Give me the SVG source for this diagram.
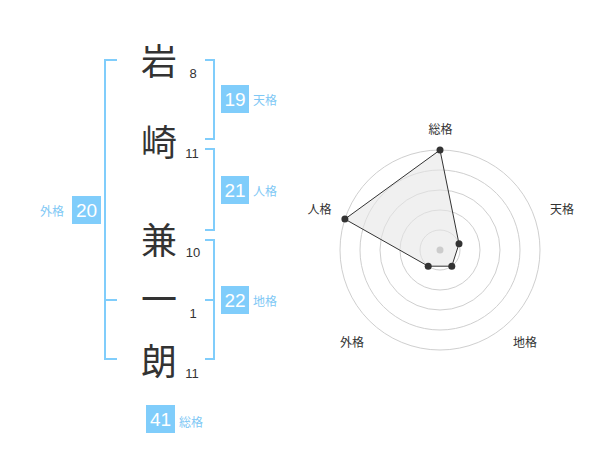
<svg xmlns="http://www.w3.org/2000/svg" width="600" height="470" viewBox="0 0 600 470">
<style>
.kanji{font-family:"Noto Sans CJK JP","Noto Sans CJK SC",sans-serif;font-size:36px;fill:#333;text-anchor:middle}
.num{font-family:"Liberation Sans",Arial,sans-serif;font-size:13px;fill:#333;text-anchor:middle}
.box{fill:#80cdfb}
.boxnum{font-family:"Liberation Sans",Arial,sans-serif;font-size:19px;fill:#fff;text-anchor:middle}
.lbl{font-family:"Noto Sans CJK JP","Noto Sans CJK SC",sans-serif;font-size:12px;fill:#80c8f5}
.br{fill:none;stroke:#80cdfb;stroke-width:2}
.ring{fill:none;stroke:#cfcfcf;stroke-width:1}
.axis{font-family:"Noto Sans CJK JP","Noto Sans CJK SC",sans-serif;font-size:12px;fill:#333;text-anchor:middle}
.dot{fill:#333}
</style>
<g id="brackets" class="connectors">
<path class="br" d="M117,60 H105 V359 H117 M105,300 H117"/>
<path class="br" d="M205,60 H214 V139 H205"/>
<path class="br" d="M205,149 H214 V230 H205"/>
<path class="br" d="M205,240 H214 V359 H205 M205,300 H214"/>
</g>
<g id="char1"><text class="kanji" x="159" y="75">岩</text><text class="num" x="193" y="78">8</text></g>
<g id="char2"><text class="kanji" x="159" y="156">崎</text><text class="num" x="192" y="158">11</text></g>
<g id="char3"><text class="kanji" x="159" y="254">兼</text><text class="num" x="193" y="257">10</text></g>
<g id="char4"><text class="kanji" x="159" y="313">一</text><text class="num" x="193" y="318">1</text></g>
<g id="char5"><text class="kanji" x="159" y="375">朗</text><text class="num" x="192" y="378">11</text></g>
<g id="tenkaku"><rect class="box" x="221" y="85" width="28" height="28"/><text class="boxnum" x="235" y="106">19</text><text class="lbl" x="253" y="105">天格</text></g>
<g id="jinkaku"><rect class="box" x="221" y="176" width="28" height="28"/><text class="boxnum" x="235" y="197">21</text><text class="lbl" x="253" y="196">人格</text></g>
<g id="chikaku"><rect class="box" x="221" y="286" width="28" height="28"/><text class="boxnum" x="235" y="307">22</text><text class="lbl" x="253" y="306">地格</text></g>
<g id="gaikaku"><rect class="box" x="72" y="196" width="29" height="28"/><text class="boxnum" x="86.5" y="217">20</text><text class="lbl" x="40" y="216">外格</text></g>
<g id="soukaku"><rect class="box" x="146" y="405" width="29" height="28"/><text class="boxnum" x="160.5" y="426">41</text><text class="lbl" x="179" y="427">総格</text></g>
<g id="radar">
<circle class="ring" cx="440" cy="250" r="20"/>
<circle class="ring" cx="440" cy="250" r="40"/>
<circle class="ring" cx="440" cy="250" r="60"/>
<circle class="ring" cx="440" cy="250" r="80"/>
<circle class="ring" cx="440" cy="250" r="100"/>
<polygon points="440,150 459,243.8 451.8,266.2 428.2,266.2 344.9,219.1" fill="#e6e6e6" fill-opacity="0.6" stroke="#333" stroke-width="1"/>
<circle cx="440" cy="250" r="3.5" fill="#ccc"/>
<circle class="dot" cx="440" cy="150" r="3.5"/>
<circle class="dot" cx="459" cy="243.8" r="3.5"/>
<circle class="dot" cx="451.8" cy="266.2" r="3.5"/>
<circle class="dot" cx="428.2" cy="266.2" r="3.5"/>
<circle class="dot" cx="344.9" cy="219.1" r="3.5"/>
<text class="axis" x="440.5" y="134">総格</text>
<text class="axis" x="562" y="214">天格</text>
<text class="axis" x="525" y="347">地格</text>
<text class="axis" x="352" y="347">外格</text>
<text class="axis" x="319.5" y="214">人格</text>
</g>
</svg>
